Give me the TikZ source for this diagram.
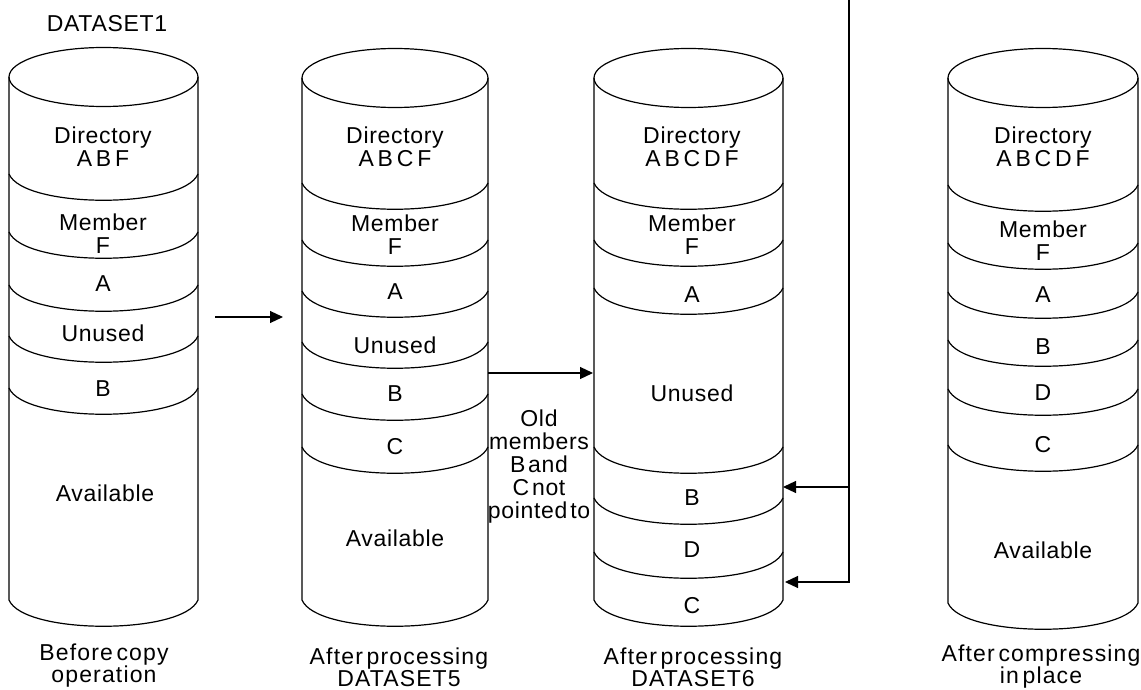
\documentclass[tikz,border=0pt]{standalone}
\usepackage{fontspec}
\setmainfont{Liberation Sans}[LetterSpace=3]
\newfontfamily\capfont{Liberation Sans}[LetterSpace=5, WordSpace=0.5]
\newfontfamily\notefont{Liberation Sans}[LetterSpace=3, WordSpace=0.4]
\usetikzlibrary{arrows.meta}

\begin{document}
\begin{tikzpicture}[x=0.5pt, y=-0.5pt, line width=0.6pt,
        every node/.style={inner sep=0pt, align=center, font=\fontsize{11.5}{11.5}\selectfont},
        caption/.style={font=\capfont\fontsize{11.5}{11}\selectfont},
        note/.style={font=\notefont\fontsize{11.5}{11.5}\selectfont},
        arr/.style={-{Triangle[length=6.5pt, width=6pt]}}]
    \useasboundingbox (0,0) rectangle (1141,690);
    \foreach \xl/\xr/\yt/\yb/\divs in {9/198/77/600/{174,232,285,336,388},
            302/488/78/600/{183,240,291,342,394,447},
            594/783/78/600/{183,240,288,447,498,552},
            948/1138/78/603/{185,243,292,340,389,445}} {
        \draw ({(\xl+\xr)/2},\yt) ellipse [x radius={(\xr-\xl)/2}, y radius=29.5];
        \draw (\xl,\yt) -- (\xl,\yb) .. controls (\xl+15,\yb+35) and (\xr-15,\yb+35) .. (\xr,\yb) -- (\xr,\yt);
        \foreach \y in \divs
        \draw (\xl,\y) .. controls (\xl+15,\y+35) and (\xr-15,\y+35) .. (\xr,\y);
    }
    \node (ds1) at (107,24) {DATASET1};
    \node (dir1) at (103,147) {Directory\\A\,B\,F};
    \node (memf1) at (103,234) {Member\\F};
    \node (a1) at (103,284) {A};
    \node (unused1) at (103,333) {Unused};
    \node (b1) at (103,389) {B};
    \node (avail1) at (105,493) {Available};
    \node[caption] (cap1) at (104,666) {Before copy\\operation};
    \node (dir2) at (395,147) {Directory\\A\,B\,C\,F};
    \node (memf2) at (395,235) {Member\\F};
    \node (a2) at (395,292) {A};
    \node (unused2) at (395,345) {Unused};
    \node (b2) at (395,394) {B};
    \node (c2) at (395,447) {C};
    \node (avail2) at (395,538) {Available};
    \node[caption] (cap2) at (399,667) {After processing\\DATASET5};
    \node[note] (old) at (539,467) {Old\\members\\B and\\C not\\pointed to};
    \node (dir3) at (692,147) {Directory\\A\,B\,C\,D\,F};
    \node (memf3) at (692,235) {Member\\F};
    \node (a3) at (692,295) {A};
    \node (unused3) at (692,393) {Unused};
    \node (b3) at (692,498) {B};
    \node (d3) at (692,550) {D};
    \node (c3) at (692,606) {C};
    \node[caption] (cap3) at (693,667) {After processing\\DATASET6};
    \node (dir4) at (1043,147) {Directory\\A\,B\,C\,D\,F};
    \node (memf4) at (1043,241) {Member\\F};
    \node (a4) at (1043,295) {A};
    \node (b4) at (1043,347) {B};
    \node (d4) at (1043,393) {D};
    \node (c4) at (1043,445) {C};
    \node (avail4) at (1043,550) {Available};
    \node[caption] (cap4) at (1041,667) {After compressing\\in place};
    \coordinate (copyS) at (215,317);
    \coordinate (copyE) at (283,317);
    \coordinate (ds5out) at (488,373);
    \coordinate (ds6in) at (593,373);
    \coordinate (ptr) at (849,0);
    \coordinate (ptrB) at (849,487);
    \coordinate (ds6B) at (783,487);
    \coordinate (ds6C) at (785,582);
    \draw[arr] (copyS) -- (copyE);
    \draw[arr] (ds5out) -- (ds6in);
    \draw[arr] (ptr) |- (ds6C);
    \draw[arr] (ptrB) -- (ds6B);
\end{tikzpicture}
\end{document}
